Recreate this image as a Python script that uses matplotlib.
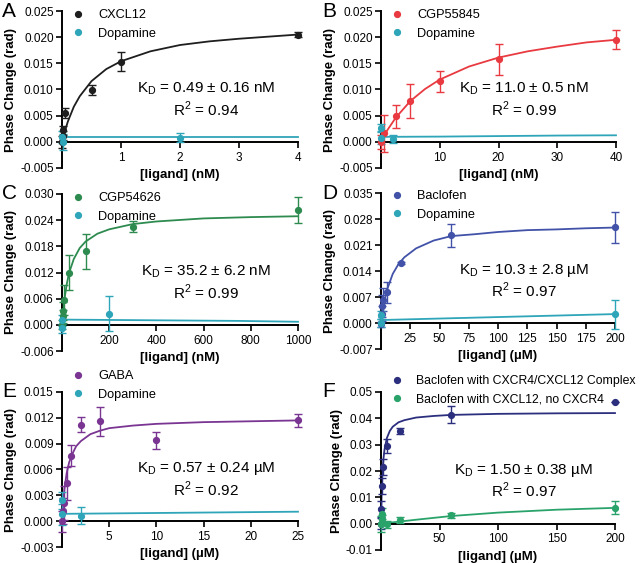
import matplotlib
matplotlib.use('Agg')
import matplotlib.pyplot as plt
from matplotlib.lines import Line2D

plt.rcParams['font.family'] = ['Liberation Sans', 'DejaVu Sans']
plt.rcParams['mathtext.fontset'] = 'custom'
plt.rcParams['mathtext.rm'] = 'Liberation Sans'

BLACK = '#1e1e1e'
TEAL = '#2fa5b9'
RED = '#e83a40'
GREEN_C = '#2e8b50'
BLUE_D = '#4152a8'
PURPLE = '#7a3593'
NAVY = '#2c2f7e'
GREEN_F = '#2aa36b'

# ---- panel A ----
a_x = [0, 0.01, 0.02, 0.05, 0.5, 1, 4]
a_y = [0, 0.0012, 0.0022, 0.0055, 0.0099, 0.0153, 0.0205]
a_err = [0.0012, 0.0008, 0.0008, 0.001, 0.001, 0.0018, 0.0005]
a_fit_x = [0, 0.02, 0.05, 0.1, 0.2, 0.3, 0.5, 0.75, 1, 1.5, 2, 2.5, 3, 3.5, 4]
a_fit_y = [0, 0.0009, 0.0021, 0.0039, 0.0067, 0.0087, 0.0116, 0.0139, 0.0154,
           0.0173, 0.0185, 0.0192, 0.0197, 0.0201, 0.0205]
a_dop_x = [0, 0.02, 2]
a_dop_y = [0.0009, 0.0, 0.0008]
a_dop_err = [0.0012, 0.0015, 0.0008]
a_dop_fit_x = [0, 4]
a_dop_fit_y = [0.001, 0.001]

# ---- panel B ----
b_x = [0, 0.5, 2.5, 5, 10, 20, 40]
b_y = [0, 0.0016, 0.0049, 0.0078, 0.0116, 0.01575, 0.0195]
b_err = [0.0013, 0.0036, 0.0022, 0.0032, 0.002, 0.003, 0.0018]
b_fit_x = [0, 1, 2.5, 5, 7.5, 10, 15, 20, 25, 30, 35, 40]
b_fit_y = [0, 0.0021, 0.0046, 0.0078, 0.0101, 0.0119, 0.0144, 0.0161,
           0.0173, 0.0182, 0.0190, 0.0195]
b_dop_x = [0, 0, 2]
b_dop_y = [0.0026, 0.0008, 0.0005]
b_dop_err = [0.0008, 0.0012, 0.0008]
b_dop_fit_x = [0, 10, 20, 30, 40]
b_dop_fit_y = [0.00095, 0.001, 0.0011, 0.0012, 0.00125]

# ---- panel C ----
c_x = [0, 3, 5, 10, 30, 100, 300, 1000]
c_y = [0, 0.002, 0.0032, 0.0057, 0.0119, 0.0169, 0.0225, 0.0263]
c_err = [0.001, 0.0015, 0.002, 0.0035, 0.004, 0.004, 0.0012, 0.003]
c_fit_x = [0, 5, 10, 20, 30, 50, 75, 100, 150, 200, 300, 400, 600, 800, 1000]
c_fit_y = [0, 0.0032, 0.0057, 0.0093, 0.0119, 0.0151, 0.0176, 0.0191, 0.0209,
           0.0219, 0.0231, 0.0237, 0.0244, 0.0247, 0.0249]
c_dop_x = [0, 0, 200]
c_dop_y = [0.001, -0.0008, 0.0025]
c_dop_err = [0.0012, 0.001, 0.004]
c_dop_fit_x = [0, 250, 500, 750, 1000]
c_dop_fit_y = [0.0012, 0.0011, 0.001, 0.0009, 0.0007]

# ---- panel D ----
d_x = [0, 0.5, 1, 2, 5, 17, 60, 200]
d_y = [-0.0004, 0.0025, 0.0045, 0.0063, 0.0083, 0.0161, 0.0236, 0.0258]
d_err = [0.0008, 0.002, 0.003, 0.003, 0.0028, 0.0003, 0.0031, 0.0042]
d_fit_x = [0, 1, 2, 5, 10, 15, 20, 30, 45, 60, 80, 100, 125, 150, 175, 200]
d_fit_y = [0, 0.0024, 0.0044, 0.0088, 0.0132, 0.0159, 0.0177, 0.0201, 0.0222,
           0.0234, 0.0239, 0.0245, 0.0250, 0.0252, 0.0255, 0.0257]
d_dop_x = [0, 0, 200]
d_dop_y = [0.0022, 0.0, 0.0024]
d_dop_err = [0.001, 0.0012, 0.0039]
d_dop_fit_x = [0, 50, 100, 150, 200]
d_dop_fit_y = [0.0008, 0.0012, 0.0016, 0.002, 0.0024]

# ---- panel E ----
e_x = [0, 0.1, 0.2, 0.5, 1, 2, 4, 10, 25]
e_y = [0, 0.0012, 0.0021, 0.0044, 0.0076, 0.0112, 0.0116, 0.0094, 0.0117]
e_err = [0.0012, 0.0015, 0.002, 0.0019, 0.0012, 0.0009, 0.0017, 0.001, 0.0008]
e_fit_x = [0, 0.1, 0.25, 0.5, 0.75, 1, 1.5, 2, 3, 4, 5, 7.5, 10, 15, 20, 25]
e_fit_y = [0, 0.0018, 0.0037, 0.0056, 0.0068, 0.0076, 0.0087, 0.0093, 0.0101,
           0.0105, 0.0108, 0.0111, 0.0113, 0.0115, 0.0116, 0.0117]
e_dop_x = [0, 0, 2]
e_dop_y = [0.0024, 0.0008, 0.00065]
e_dop_err = [0.001, 0.0012, 0.001]
e_dop_fit_x = [0, 5, 10, 15, 20, 25]
e_dop_fit_y = [0.00085, 0.0009, 0.00095, 0.001, 0.00105, 0.0011]

# ---- panel F ----
f_x = [0, 0.25, 0.75, 1.5, 5, 16, 60, 200]
f_y = [0, 0.0057, 0.0142, 0.0216, 0.0295, 0.0352, 0.0413, 0.0462]
f_err = [0.002, 0.003, 0.003, 0.003, 0.0025, 0.001, 0.0032, 0.0]
f_fit_x = [0, 0.25, 0.5, 1, 2, 3, 5, 7.5, 10, 15, 20, 30, 45, 60, 100, 150, 200]
f_fit_y = [0, 0.0060, 0.0106, 0.0169, 0.0242, 0.0282, 0.0325, 0.0352, 0.0368,
           0.0385, 0.0393, 0.0403, 0.0409, 0.0413, 0.0417, 0.0419, 0.0420]
f2_x = [0, 0.5, 1, 5, 16, 60, 200]
f2_y = [0, 0.0019, 0.0038, -0.0003, 0.0013, 0.0032, 0.006]
f2_err = [0.003, 0.0015, 0.002, 0.0015, 0.0012, 0.001, 0.0025]
f2_fit_x = [0, 16, 30, 60, 100, 150, 200]
f2_fit_y = [0, 0.0008, 0.0015, 0.0029, 0.0042, 0.0053, 0.006]

W, H = 640, 563


def px_axes(left, top, right, bottom):
    return [left / W, 1 - bottom / H, (right - left) / W, (bottom - top) / H]


def series(ax, x, y, err, fx, fy, color):
    ax.errorbar(x, y, yerr=err, fmt='o', color=color, ms=4.2, elinewidth=1.0,
                capsize=3, capthick=1.0, clip_on=False, zorder=3)
    ax.plot(fx, fy, color=color, lw=1.3, clip_on=False, zorder=2)


def panel(ax, xmax, xticks, yticks, ylabels, unit, kd, r2, names, colors,
          leg_y, leg_fs=9.2):
    ax.set_xlim(0, xmax)
    ax.set_ylim(yticks[-1], yticks[0])
    for s in ['top', 'right']:
        ax.spines[s].set_visible(False)
    ax.spines['bottom'].set_position(('data', 0))
    ax.spines['left'].set_linewidth(1.4)
    ax.spines['bottom'].set_linewidth(1.4)
    ax.set_xticks(xticks)
    ax.set_xticklabels([str(t) for t in xticks])
    ax.set_yticks(yticks)
    ax.set_yticklabels(ylabels)
    ax.tick_params(axis='both', labelsize=8.5, width=1.2, length=4, pad=2)
    ax.tick_params(axis='x', pad=3)
    ax.set_ylabel('Phase Change (rad)', fontsize=9.5, fontweight='bold', labelpad=2)
    ax.set_xlabel('[ligand] (' + unit + ')', fontsize=9.5, fontweight='bold')
    ax.xaxis.set_label_coords(0.5, -0.005)
    ax.text(0.61, 0.505, r'K$_\mathregular{D}$ = ' + kd + ' ' + unit,
            transform=ax.transAxes, ha='center', va='center', fontsize=11)
    ax.text(0.61, 0.375, r'R$^\mathregular{2}$ = ' + r2,
            transform=ax.transAxes, ha='center', va='center', fontsize=11)
    handles = [Line2D([], [], ls='none', marker='o', ms=4.2, color=c) for c in colors]
    ax.legend(handles, names, loc='upper left', frameon=False, fontsize=leg_fs,
              bbox_to_anchor=(0.041, leg_y), borderpad=0, borderaxespad=0,
              handlelength=1.0, handletextpad=1.08, labelspacing=0.5)
    return ax


fig = plt.figure(figsize=(6.4, 5.63), dpi=100)

axA = fig.add_axes(px_axes(62, 11, 298, 168))
series(axA, a_x, a_y, a_err, a_fit_x, a_fit_y, BLACK)
series(axA, a_dop_x, a_dop_y, a_dop_err, a_dop_fit_x, a_dop_fit_y, TEAL)
panel(axA, 4, [1, 2, 3, 4], [0.025, 0.020, 0.015, 0.010, 0.005, 0.0, -0.005],
      ['0.025', '0.020', '0.015', '0.010', '0.005', '0.000', '-0.005'], 'nM',
      '0.49 ± 0.16', '0.94', ['CXCL12', 'Dopamine'], [BLACK, TEAL], 1.011)

axB = fig.add_axes(px_axes(381, 11, 616, 168))
series(axB, b_x, b_y, b_err, b_fit_x, b_fit_y, RED)
series(axB, b_dop_x, b_dop_y, b_dop_err, b_dop_fit_x, b_dop_fit_y, TEAL)
panel(axB, 40, [10, 20, 30, 40], [0.025, 0.020, 0.015, 0.010, 0.005, 0.0, -0.005],
      ['0.025', '0.020', '0.015', '0.010', '0.005', '0.000', '-0.005'], 'nM',
      '11.0 ± 0.5', '0.99', ['CGP55845', 'Dopamine'], [RED, TEAL], 1.011)

axC = fig.add_axes(px_axes(62, 194, 298, 351))
series(axC, c_x, c_y, c_err, c_fit_x, c_fit_y, GREEN_C)
series(axC, c_dop_x, c_dop_y, c_dop_err, c_dop_fit_x, c_dop_fit_y, TEAL)
panel(axC, 1000, [200, 400, 600, 800, 1000],
      [0.030, 0.024, 0.018, 0.012, 0.006, 0.0, -0.006],
      ['0.030', '0.024', '0.018', '0.012', '0.006', '0.000', '-0.006'], 'nM',
      '35.2 ± 6.2', '0.99', ['CGP54626', 'Dopamine'], [GREEN_C, TEAL], 1.011)

axD = fig.add_axes(px_axes(381, 193, 615, 349))
series(axD, d_x, d_y, d_err, d_fit_x, d_fit_y, BLUE_D)
series(axD, d_dop_x, d_dop_y, d_dop_err, d_dop_fit_x, d_dop_fit_y, TEAL)
panel(axD, 200, [25, 50, 75, 100, 125, 150, 175, 200],
      [0.035, 0.028, 0.021, 0.014, 0.007, 0.0, -0.007],
      ['0.035', '0.028', '0.021', '0.014', '0.007', '0.000', '-0.007'], 'µM',
      '10.3 ± 2.8', '0.97', ['Baclofen', 'Dopamine'], [BLUE_D, TEAL], 1.017)

axE = fig.add_axes(px_axes(62, 392, 298, 547))
series(axE, e_x, e_y, e_err, e_fit_x, e_fit_y, PURPLE)
series(axE, e_dop_x, e_dop_y, e_dop_err, e_dop_fit_x, e_dop_fit_y, TEAL)
panel(axE, 25, [5, 10, 15, 20, 25],
      [0.015, 0.012, 0.009, 0.006, 0.003, 0.0, -0.003],
      ['0.015', '0.012', '0.009', '0.006', '0.003', '0.000', '-0.003'], 'µM',
      '0.57 ± 0.24', '0.92', ['GABA', 'Dopamine'], [PURPLE, TEAL], 1.14)

axF = fig.add_axes(px_axes(381, 392, 615, 550))
series(axF, f_x, f_y, f_err, f_fit_x, f_fit_y, NAVY)
series(axF, f2_x, f2_y, f2_err, f2_fit_x, f2_fit_y, GREEN_F)
panel(axF, 200, [50, 100, 150, 200],
      [0.05, 0.04, 0.03, 0.02, 0.01, 0.0, -0.01],
      ['0.05', '0.04', '0.03', '0.02', '0.01', '0.00', '-0.01'], 'µM',
      '1.50 ± 0.38', '0.97',
      ['Baclofen with CXCR4/CXCL12 Complex', 'Baclofen with CXCL12, no CXCR4'],
      [NAVY, GREEN_F], 1.105, leg_fs=8.8)

# panel letters
for letter, x, y in [('A', 2, 2), ('B', 322, 2), ('C', 2, 184), ('D', 322, 184),
                     ('E', 2, 382), ('F', 322, 382)]:
    fig.text(x / W, 1 - y / H, letter, fontsize=15, ha='left', va='top')

fig.savefig('out.png', dpi=100)
